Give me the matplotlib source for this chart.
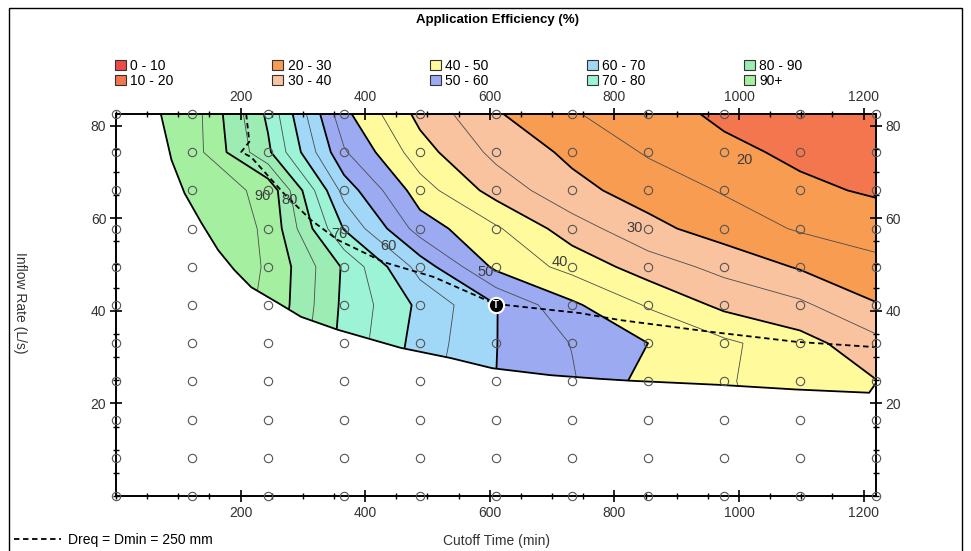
import numpy as np
import matplotlib
matplotlib.use("Agg")
import matplotlib.pyplot as plt
from matplotlib.patches import Polygon, Patch, Rectangle
from matplotlib.ticker import MultipleLocator

plt.rcParams['font.family'] = ['Liberation Sans', 'DejaVu Sans']

# simulation grid (cutoff time in min, inflow rate in L/s)
cutoff_time = [0, 122, 244, 366, 488, 610, 732, 854, 976, 1098, 1220]
inflow_rate = [0, 8.25, 16.5, 24.75, 33, 41.25, 49.5, 57.75, 66, 74.25, 82.5]

# application efficiency (%) read at the grid nodes, one row per inflow rate
nan = np.nan
eff_q00 = [nan] * 11
eff_q08 = [nan] * 11
eff_q16 = [98, 98, 92, 78, 67, 60, 56, 48, 45.5, 44, 41]
eff_q25 = [98, 97, 92, 78, 67, 60, 55.5, 48, 45.3, 43.5, 40.2]
eff_q33 = [98, 97, 93, 78.4, 68, 60.1, 54.8, 50, 46, 42, 36.5]
eff_q41 = [98, 98, 94.4, 78.9, 68.9, 60.2, 50.9, 44.5, 38.8, 36, 30.3]
eff_q50 = [98, 98, 94.7, 79.3, 63, 48.8, 43.4, 37.5, 33.5, 29.5, 26.5]
eff_q58 = [98, 98, 94.5, 69.7, 52.6, 45.7, 37.3, 31.5, 27.6, 24.5, 22.5]
eff_q66 = [98, 97.5, 94, 63, 47.3, 38, 31.5, 27.8, 24.6, 21, 19.4]
eff_q74 = [98, 97.5, 81, 55.6, 42.1, 33.6, 28.9, 24.5, 21.2, 19, 17.5]
eff_q83 = [98, 97.5, 79, 51.3, 38.5, 30.5, 25.4, 22.2, 19, 17.5, 16]

# limit of the valid region (advance completes)
bnd_time = [72, 89, 110, 137, 164, 190, 217, 260, 297, 356, 457, 537, 604,
            697, 777, 825, 969, 1092, 1209, 1220]
bnd_rate = [82.5, 72.6, 65.4, 59.0, 53.1, 48.8, 45.1, 41.7, 38.7, 35.9, 32.0,
            29.8, 27.6, 26.1, 25.3, 24.9, 24.0, 23.0, 22.3, 24.4]

# Dreq = Dmin = 250 mm line
dreq_time = [209, 214, 201, 217, 269, 313, 356, 430, 510, 608, 745, 809, 958,
             1092, 1214, 1220]
dreq_rate = [82.5, 76.5, 74.3, 73.2, 65.4, 59.6, 55.3, 50.5, 47.3, 41.5, 39.5,
             38.0, 35.4, 33.3, 32.2, 32.2]

# current operating point
op_time = 610
op_rate = 41.25

levels = [0, 10, 20, 30, 40, 50, 60, 70, 80, 90, 110]
band_labels = ["0 - 10", "10 - 20", "20 - 30", "30 - 40", "40 - 50",
               "50 - 60", "60 - 70", "70 - 80", "80 - 90", "90+"]
band_colors = ["#ee4a48", "#f4764e", "#f89c52", "#fac3a0", "#fffb9c",
               "#9caaf2", "#a2d8f7", "#9cf3d6", "#9cecb4", "#a4f0a0"]
line_labels = ["20", "30", "40", "50", "60", "70", "80", "90"]
label_time = [1009, 833, 713, 593, 438, 358, 278, 236]
label_rate = [72.6, 57.9, 50.5, 48.4, 54.0, 56.6, 63.9, 64.8]

eff = np.array([eff_q00, eff_q08, eff_q16, eff_q25, eff_q33, eff_q41,
                eff_q50, eff_q58, eff_q66, eff_q74, eff_q83])
eff = np.ma.masked_invalid(eff)
T, Q = np.meshgrid(cutoff_time, inflow_rate)

fig = plt.figure(figsize=(9.71, 5.51), dpi=100)
ax = fig.add_axes([116 / 971, 1 - 496 / 551, 760 / 971, 382 / 551])

clip = Polygon(np.column_stack([bnd_time + [1220], bnd_rate + [82.5]]),
               closed=True, transform=ax.transData, facecolor='none',
               edgecolor='none')

cf = ax.contourf(T, Q, eff, levels=levels, colors=band_colors)
cf.set_clip_path(clip)
thin = ax.contour(T, Q, eff, levels=[15, 25, 35, 45, 55, 65, 75, 85, 95],
                  colors='#4a4a4a', linewidths=0.6)
thin.set_clip_path(clip)
thick = ax.contour(T, Q, eff, levels=[20, 30, 40, 50, 60, 70, 80, 90],
                   colors='black', linewidths=1.3)
thick.set_clip_path(clip)

for lab, lt, lr in zip(line_labels, label_time, label_rate):
    ax.text(lt, lr, lab, fontsize=10.5, color='#3c3c3c', ha='center',
            va='center', zorder=4)

ax.plot(bnd_time, bnd_rate, color='black', lw=1.3)
dline, = ax.plot(dreq_time, dreq_rate, color='black', lw=1.3,
                 dashes=(3, 2))

ax.plot(T.ravel(), Q.ravel(), 'o', mfc='none', mec='#555555', ms=6,
        mew=0.8, clip_on=False, zorder=5)
ax.plot(op_time, op_rate, 'o', ms=11, mfc='black', mec='white', mew=1.5,
        zorder=6)
ax.text(op_time, op_rate, 'T', color='white', fontsize=7, fontweight='bold',
        ha='center', va='center', zorder=7)

ax.set_xlim(0, 1220)
ax.set_ylim(0, 82.5)
ax.xaxis.set_minor_locator(MultipleLocator(50))
ax.yaxis.set_minor_locator(MultipleLocator(5))
ax.set_xticks([200, 400, 600, 800, 1000, 1200])
ax.set_yticks([20, 40, 60, 80])
ax.tick_params(which='both', top=True, right=True, labeltop=True,
               labelright=True, colors='black', labelcolor='#333333',
               labelsize=10)
ax.tick_params(which='major', direction='inout', length=8, width=1.2, pad=3)
ax.tick_params(which='minor', direction='inout', length=4, width=1)
for s in ax.spines.values():
    s.set_linewidth(1.4)

ax.set_xlabel('Cutoff Time (min)', fontsize=10, color='#333333', labelpad=10)
fig.text(20 / 971, 1 - 303 / 551, 'Inflow Rate (L/s)', rotation=270,
         ha='center', va='center', fontsize=10, color='#333333')
fig.text(497 / 971, 1 - 20 / 551, 'Application Efficiency (%)', ha='center',
         va='center', fontsize=9.5, fontweight='bold')

handles = [Patch(facecolor=c, edgecolor='#333333', lw=0.8) for c in band_colors]
fig.legend(handles, band_labels, ncol=5, loc='upper left',
           bbox_to_anchor=(115 / 971, 1 - 59 / 551), frameon=False,
           fontsize=10, handlelength=0.8, handleheight=0.8,
           handletextpad=0.3, columnspacing=7.1, labelspacing=0.05,
           borderpad=0, borderaxespad=0)
fig.legend([dline], ['Dreq = Dmin = 250 mm'], loc='center left',
           bbox_to_anchor=(14 / 971, 1 - 540 / 551), frameon=False,
           fontsize=10, handlelength=3.4, handletextpad=0.5, borderpad=0,
           borderaxespad=0)

fig.add_artist(Rectangle((9 / 971, -0.1), 953 / 971, 1.1 - 8 / 551,
                         transform=fig.transFigure, fill=False,
                         edgecolor='black', lw=1))

fig.savefig('out.png', dpi=100)
